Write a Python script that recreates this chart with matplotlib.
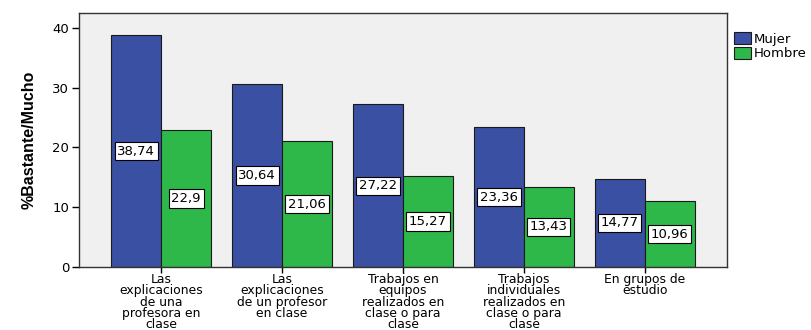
import matplotlib
matplotlib.use("Agg")
import matplotlib.pyplot as plt
import numpy as np

plt.rcParams['font.family'] = ['DejaVu Sans']

# data
categorias = ["Las\nexplicaciones\nde una\nprofesora en\nclase",
              "Las\nexplicaciones\nde un profesor\nen clase",
              "Trabajos en\nequipos\nrealizados en\nclase o para\nclase",
              "Trabajos\nindividuales\nrealizados en\nclase o para\nclase",
              "En grupos de\nestudio"]
mujer = [38.74, 30.64, 27.22, 23.36, 14.77]
hombre = [22.9, 21.06, 15.27, 13.43, 10.96]

fig = plt.figure(figsize=(8.11, 3.3), dpi=100)
ax = fig.add_axes([79/811, 1 - 267/330, (727-79)/811, (267-13)/330])
ax.set_facecolor('#f0f0f0')

x = np.arange(len(categorias))
w = 0.413
b1 = ax.bar(x - w/2, mujer, w, color='#3a50a2', edgecolor='#1a1a1a', linewidth=0.8, label='Mujer')
b2 = ax.bar(x + w/2, hombre, w, color='#2fb84a', edgecolor='#1a1a1a', linewidth=0.8, label='Hombre')

def fmt(v):
    s = ('%.2f' % v).rstrip('0').rstrip('.')
    return s.replace('.', ',')

for bars, vals in ((b1, mujer), (b2, hombre)):
    for r, v in zip(bars, vals):
        ax.text(r.get_x() + r.get_width()/2, v/2, fmt(v), ha='center', va='center',
                fontsize=9.5, color='black',
                bbox=dict(boxstyle='square,pad=0.2', facecolor='white', edgecolor='black', linewidth=0.8))

ax.set_xlim(-0.68, 4.68)
ax.set_ylim(0, 42.5)
ax.set_yticks([0, 10, 20, 30, 40])
ax.set_xticks(x)
ax.set_xticklabels(categorias, fontsize=8.9, linespacing=0.82)
ax.tick_params(axis='y', labelsize=9.5, length=5, width=1, pad=2)
ax.tick_params(axis='x', length=4, width=1, pad=0.5)
for s in ax.spines.values():
    s.set_color('#333333')
    s.set_linewidth(1)

ax.set_ylabel('%Bastante/Mucho', fontsize=11.5, fontweight='bold', labelpad=11,
              family=['Liberation Sans', 'DejaVu Sans'])

ax.legend(loc='upper left', bbox_to_anchor=(1.0, 0.95), frameon=False, fontsize=9.5,
          handlelength=1.3, handleheight=1.0, handletextpad=0.2, labelspacing=0.1,
          borderaxespad=0.1)

fig.savefig('out.png', dpi=100)
